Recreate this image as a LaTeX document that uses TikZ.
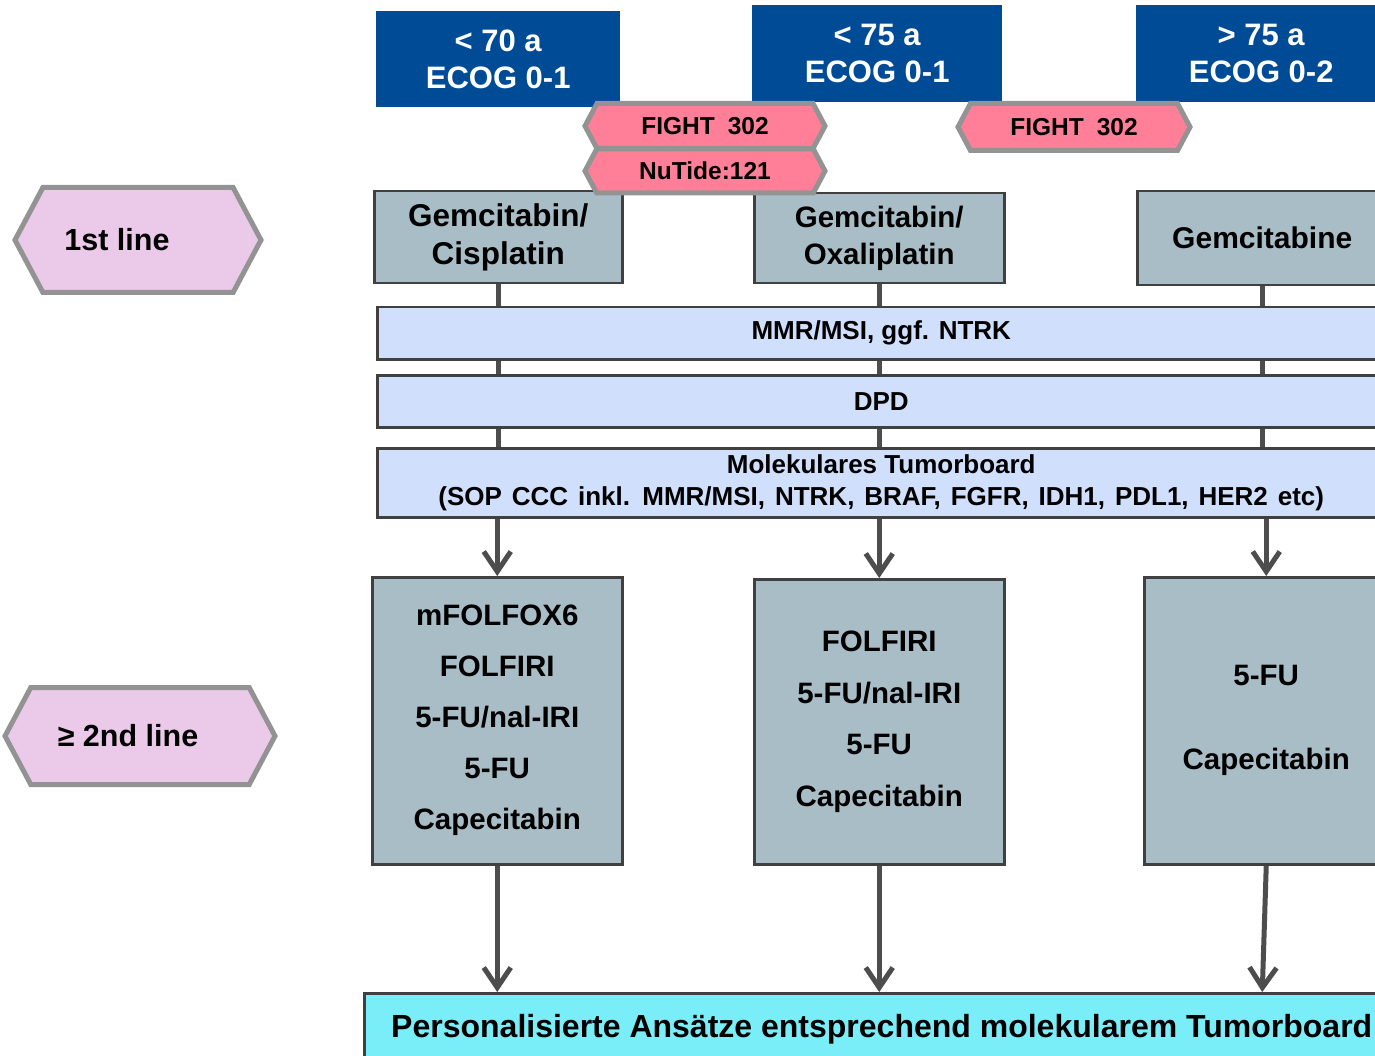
\documentclass[tikz,border=0pt]{standalone}
\usepackage{fontspec}
\setmainfont{Liberation Sans}
\usetikzlibrary{arrows.meta,shapes.symbols,backgrounds}
\definecolor{topblue}{RGB}{0,75,150}
\definecolor{hexpink}{RGB}{255,127,153}
\definecolor{hexgrey}{RGB}{147,147,147}
\definecolor{lilac}{RGB}{234,201,233}
\definecolor{boxgrey}{RGB}{169,189,198}
\definecolor{bandblue}{RGB}{208,223,252}
\definecolor{cyanbox}{RGB}{122,238,248}
\definecolor{darkline}{RGB}{64,64,64}
\definecolor{connline}{RGB}{77,77,77}
\begin{document}
\begin{tikzpicture}[x=1pt,y=-1pt,
  topbox/.style={fill=topblue,text=white,font=\bfseries\fontsize{31}{37}\selectfont,align=center,inner sep=0pt,anchor=north west},
  hexa/.style={signal,signal to=west and east,signal pointer angle=124,draw=hexgrey,line width=5pt,inner sep=0pt,font=\bfseries},
  pinkhex/.style={hexa,fill=hexpink,font=\bfseries\fontsize{24.5}{28}\selectfont},
  linehex/.style={hexa,fill=lilac,font=\bfseries\fontsize{30.5}{34}\selectfont},
  treatbox/.style={fill=boxgrey,draw=darkline,line width=2.5pt,align=center,inner sep=0pt,anchor=north west},
  band/.style={fill=bandblue,draw=darkline,line width=2.5pt,align=center,inner sep=0pt,anchor=north west,font=\bfseries\fontsize{26}{32}\selectfont},
  conn/.style={draw=connline,line width=5pt},
  arr/.style={conn,-{Straight Barb[length=20pt,width=27pt,line width=5pt]}}
]
\clip (0,0) rectangle (1375,1056);

% top boxes
\node[topbox,minimum width=244pt,minimum height=96pt] (t1) at (376,11) {< 70 a\\ECOG 0-1};
\node[topbox,minimum width=250pt,minimum height=97pt] (t2) at (752,5) {< 75 a\\ECOG 0-1};
\node[topbox,minimum width=250pt,minimum height=97pt] (t3) at (1136,5) {> 75 a\\ECOG 0-2};

% first-line treatment boxes
\node[treatbox,minimum width=248pt,minimum height=92pt,font=\bfseries\fontsize{31.5}{38}\selectfont] (b1) at (373,190) {Gemcitabin/\\Cisplatin};
\node[treatbox,minimum width=250pt,minimum height=90pt,font=\bfseries\fontsize{29.5}{37}\selectfont] (b2) at (753,192) {Gemcitabin/\\Oxaliplatin};
\node[treatbox,minimum width=250pt,minimum height=94pt,font=\bfseries\fontsize{30}{36}\selectfont] (b3) at (1136,190) {Gemcitabine};

% trial hexagons
\node[pinkhex,minimum width=240pt,minimum height=45pt] (f1) at (705,126) {FIGHT\hspace{0.25em} 302};
\node[pinkhex,minimum width=240pt,minimum height=44pt] (n1) at (705,171) {NuTide:121};
\node[pinkhex,minimum width=232pt,minimum height=47pt] (f2) at (1074,127) {FIGHT\hspace{0.25em} 302};

% line labels
\node[linehex,minimum width=246pt,minimum height=105pt] (l1) at (138,240) {1st line\hspace*{42pt}};
\node[linehex,minimum width=270pt,minimum height=97pt] (l2) at (140,736) {≥ 2nd line\hspace*{24pt}};

% bands
\node[band,minimum width=1008pt,minimum height=52pt] (mmr) at (376,306) {MMR/MSI, ggf. NTRK};
\node[band,minimum width=1008pt,minimum height=52pt] (dpd) at (376,374) {DPD};
\node[band,minimum width=1008pt,minimum height=69pt] (mol) at (376,447) {Molekulares Tumorboard\\{\spaceskip=0.38em plus 0.1em (SOP CCC inkl. MMR/MSI, NTRK, BRAF, FGFR, IDH1, PDL1, HER2 etc)}};

% second-line boxes
\node[treatbox,minimum width=250pt,minimum height=287pt,font=\bfseries\fontsize{29.5}{51}\selectfont] (c1) at (371,576) {mFOLFOX6\\FOLFIRI\\5-FU/nal-IRI\\5-FU\\Capecitabin};
\node[treatbox,minimum width=250pt,minimum height=285pt,font=\bfseries\fontsize{29.5}{51.5}\selectfont] (c2) at (753,578) {FOLFIRI\\5-FU/nal-IRI\\5-FU\\Capecitabin};
\node[treatbox,minimum width=244pt,minimum height=287pt,font=\bfseries\fontsize{29.5}{84}\selectfont] (c3) at (1143,576) {5-FU\\Capecitabin};

% bottom box
\node[treatbox,fill=cyanbox,minimum width=1035pt,minimum height=72pt,font=\bfseries\fontsize{32}{34}\selectfont] (pb) at (363,992) {Personalisierte Ansätze entsprechend molekularem Tumorboard};

% connectors
\begin{scope}[on background layer]
\fill[white] (0,0) rectangle (1375,1056);
\foreach \b/\c in {b1/c1,b2/c2,b3/c3}{
  \draw[conn] (\b.south) -- (\b.south |- mmr.north);
  \draw[conn] (\b.south |- mmr.south) -- (\b.south |- dpd.north);
  \draw[conn] (\b.south |- dpd.south) -- (\b.south |- mol.north);
  \draw[arr] (\c.north |- mol.south) -- (\c.north);
}
\draw[arr] (c1.south) -- (c1.south |- pb.north);
\draw[arr] (c2.south) -- (c2.south |- pb.north);
\draw[arr] (c3.south) -- (b3.south |- pb.north);
\end{scope}
\end{tikzpicture}
\end{document}
